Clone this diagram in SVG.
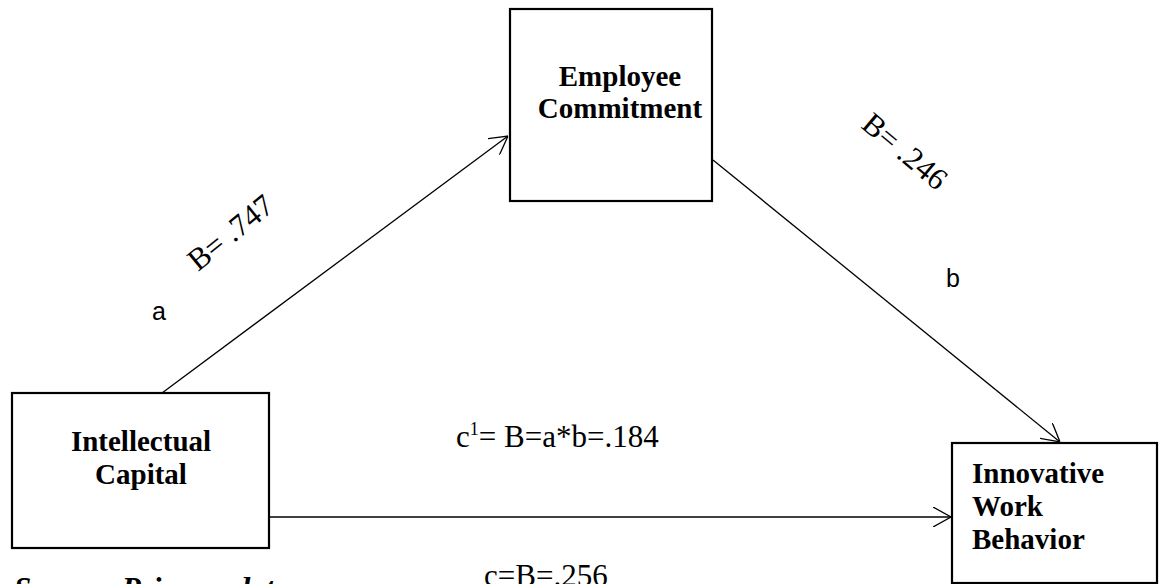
<svg xmlns="http://www.w3.org/2000/svg" width="1160" height="584" viewBox="0 0 1160 584">
<style>
.box{fill:#fff;stroke:#000;stroke-width:2.2}
.ttl{font-family:"Liberation Serif","Times New Roman",serif;font-weight:bold;font-size:29px;fill:#000}
.lbl{font-family:"Liberation Serif","Times New Roman",serif;font-size:31px;fill:#000}
.sans{font-family:"Liberation Sans",Arial,sans-serif;font-size:25px;fill:#000}
.conn{stroke:#000;stroke-width:1.3;fill:none;marker-end:url(#arr)}
</style>
<defs>
<marker id="arr" viewBox="0 0 18 20" refX="18" refY="10" markerWidth="18" markerHeight="20" markerUnits="userSpaceOnUse" orient="auto">
<path d="M0,0 L18,10 L0,20" fill="none" stroke="#000" stroke-width="1.3"/>
</marker>
</defs>
<rect width="1160" height="584" fill="#fff"/>
<g id="connectors">
<line class="conn" x1="162" y1="393" x2="508" y2="136"/>
<line class="conn" x1="713" y1="160" x2="1060" y2="442"/>
<line class="conn" x1="269" y1="517" x2="951" y2="517"/>
</g>
<g id="node-employee-commitment">
<rect class="box" x="510" y="9" width="202" height="192"/>
<text class="ttl" x="620" y="86" text-anchor="middle">Employee</text>
<text class="ttl" x="620" y="118" text-anchor="middle">Commitment</text>
</g>
<g id="node-intellectual-capital">
<rect class="box" x="12" y="393" width="257" height="155"/>
<text class="ttl" x="141" y="451" text-anchor="middle">Intellectual</text>
<text class="ttl" x="141" y="484" text-anchor="middle">Capital</text>
</g>
<g id="node-innovative-work-behavior">
<rect class="box" x="952" y="443" width="205" height="140"/>
<text class="ttl" x="972" y="483">Innovative</text>
<text class="ttl" x="972" y="516">Work</text>
<text class="ttl" x="972" y="549">Behavior</text>
</g>
<g id="labels">
<text class="lbl" font-size="32" transform="translate(198,272) rotate(-39)">B= .747</text>
<text class="sans" x="152" y="320">a</text>
<text class="lbl" font-size="32" transform="translate(860,127) rotate(40)">B= .246</text>
<text class="sans" x="946" y="287">b</text>
<text class="lbl" x="456" y="447">c<tspan font-size="18" dy="-12">1</tspan><tspan dy="12">= B=a*b=.184</tspan></text>
<text class="lbl" x="484" y="586">c=B=.256</text>
<text class="lbl" x="14" y="599" font-size="28" font-weight="bold" font-style="italic">Source: Primary data</text>
</g>
</svg>
